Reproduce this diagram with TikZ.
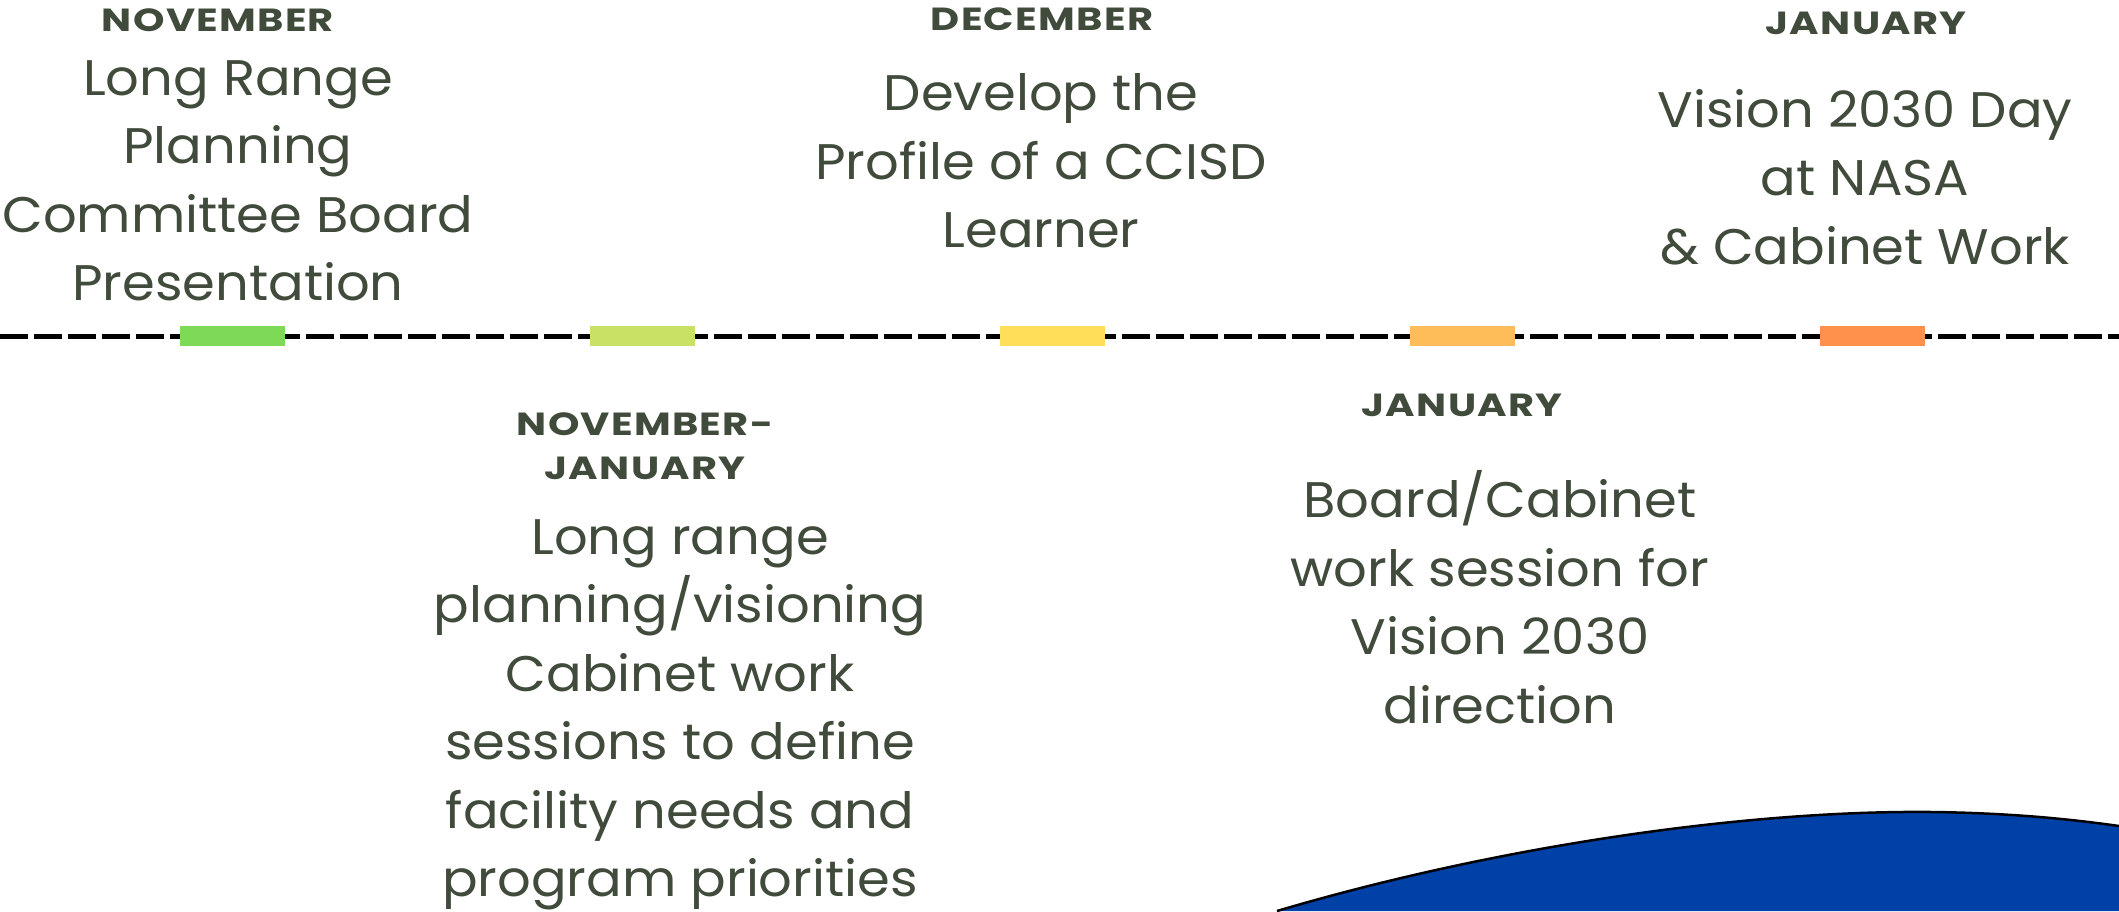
\documentclass[tikz,border=0pt]{standalone}
\usepackage{fontspec}
\setmainfont{Poppins}
\newfontfamily\bodyfont[FakeStretch=1.055]{Poppins}
\newfontfamily\monthfont[FakeStretch=1.25,LetterSpace=4]{Poppins}
\definecolor{txt}{HTML}{404B3C}
\definecolor{cA}{HTML}{7ED957}
\definecolor{cB}{HTML}{C9E265}
\definecolor{cC}{HTML}{FFDE59}
\definecolor{cD}{HTML}{FFBD59}
\definecolor{cE}{HTML}{FF914D}
\definecolor{blueshape}{HTML}{0041A8}
\tikzset{
  body/.style={text=txt, align=center, inner sep=0pt, font=\bodyfont\fontsize{50}{68.5}\selectfont},
  month/.style={text=txt, align=center, inner sep=0pt, font=\monthfont\bfseries\fontsize{32}{44}\selectfont},
  mark box/.style={rectangle, minimum width=105pt, minimum height=20pt, inner sep=0pt, draw=none},
  timeline/.style={line width=5pt, dash pattern=on 28pt off 6pt, black}
}
\begin{document}
\begin{tikzpicture}[x=1pt,y=-1pt]
\useasboundingbox (0,0) rectangle (2119,911);
\fill[white] (0,0) rectangle (2119,911);

% blue shape
\coordinate (bs1) at (1277,911);
\coordinate (bs2) at (1932,812);
\coordinate (bs3) at (2119,826);
\fill[blueshape] (bs1) .. controls (1500,845) and (1750,810) .. (bs2) .. controls (2010,813) and (2070,819) .. (bs3) -- (2119,911) -- cycle;
\draw[line width=2.5pt] (bs1) .. controls (1500,845) and (1750,810) .. (bs2) .. controls (2010,813) and (2070,819) .. (bs3);

% timeline
\coordinate (tl) at (0,336);
\coordinate (tr) at (2119,336);
\draw[timeline] (tl) -- (tr);
\node[mark box, fill=cA] (m1) at (232,336) {};
\node[mark box, fill=cB] (m2) at (642,336) {};
\node[mark box, fill=cC] (m3) at (1052,336) {};
\node[mark box, fill=cD] (m4) at (1462,336) {};
\node[mark box, fill=cE] (m5) at (1872,336) {};

% top labels
\node[month] (h1) at (218,20) {NOVEMBER};
\node[body] (t1) at (238,181) {Long Range\\Planning\\Committee Board\\Presentation};

\node[month] (h3) at (1042,19) {DECEMBER};
\node[body] (t3) at (1041,161) {Develop the\\Profile of a CCISD\\Learner};

\node[month] (h5) at (1866,23) {JANUARY};
\node[body] (t5) at (1865,177) {Vision 2030 Day\\at NASA\\\& Cabinet Work};

% bottom labels
\node[month] (h2) at (645,446) {NOVEMBER-\\JANUARY};
\node[body] (t2) at (680,715) {Long range\\planning/visioning\\Cabinet work\\sessions to define\\facility needs and\\program priorities};

\node[month] (h4) at (1462,405) {JANUARY};
\node[body] (t4) at (1500,597) {Board/Cabinet\\work session for\\Vision 2030\\direction};
\end{tikzpicture}
\end{document}
